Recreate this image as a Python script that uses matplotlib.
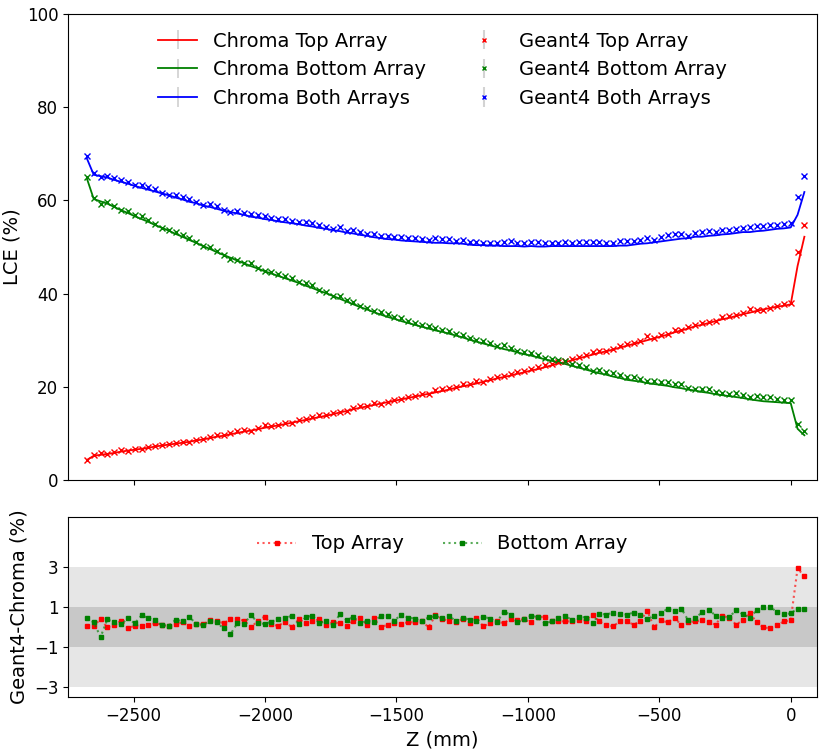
import numpy as np
import matplotlib
matplotlib.use("Agg")
import matplotlib.pyplot as plt

# ---- data ----
z_mm = [-2678, -2652, -2626, -2600, -2574, -2548, -2522, -2496, -2470, -2444,
        -2418, -2392, -2366, -2340, -2314, -2288, -2262, -2236, -2210, -2184,
        -2158, -2132, -2106, -2080, -2054, -2028, -2002, -1976, -1950, -1924,
        -1898, -1872, -1846, -1820, -1794, -1768, -1742, -1716, -1690, -1664,
        -1638, -1612, -1586, -1560, -1534, -1508, -1482, -1456, -1430, -1404,
        -1378, -1352, -1326, -1300, -1274, -1248, -1222, -1196, -1170, -1144,
        -1118, -1092, -1066, -1040, -1014, -988, -962, -936, -910, -884,
        -858, -832, -806, -780, -754, -728, -702, -676, -650, -624,
        -598, -572, -546, -520, -494, -468, -442, -416, -390, -364,
        -338, -312, -286, -260, -234, -208, -182, -156, -130, -104,
        -78, -52, -26, 0, 26, 52]

chroma_top = [4.3, 5.2, 5.4, 5.6, 5.8, 6.1, 6.3, 6.5, 6.7, 6.9,
              7.2, 7.4, 7.6, 7.8, 8.0, 8.2, 8.5, 8.7, 9.0, 9.3,
              9.5, 9.8, 10.1, 10.4, 10.6, 10.9, 11.2, 11.5, 11.7, 12.0,
              12.3, 12.6, 12.9, 13.2, 13.5, 13.8, 14.1, 14.5, 14.8, 15.2,
              15.5, 15.8, 16.1, 16.4, 16.7, 17.0, 17.3, 17.6, 17.9, 18.2,
              18.5, 18.8, 19.1, 19.4, 19.8, 20.1, 20.4, 20.7, 21.1, 21.4,
              21.8, 22.1, 22.4, 22.8, 23.1, 23.5, 23.8, 24.2, 24.6, 25.0,
              25.3, 25.7, 26.1, 26.5, 26.9, 27.3, 27.6, 28.0, 28.4, 28.8,
              29.2, 29.6, 30.0, 30.4, 30.8, 31.2, 31.7, 32.1, 32.5, 33.0,
              33.3, 33.7, 34.1, 34.5, 34.8, 35.2, 35.6, 35.9, 36.3, 36.6,
              36.9, 37.2, 37.4, 37.7, 45.9, 52.2]

chroma_bottom = [64.7, 60.3, 59.8, 59.3, 58.6, 57.9, 57.3, 56.6, 56.0, 55.4,
                 54.7, 54.1, 53.5, 52.8, 52.2, 51.5, 50.9, 50.2, 49.6, 48.9,
                 48.3, 47.7, 47.1, 46.5, 45.9, 45.4, 44.8, 44.3, 43.8, 43.3,
                 42.8, 42.3, 41.7, 41.2, 40.6, 40.1, 39.5, 38.9, 38.3, 37.7,
                 37.1, 36.6, 36.0, 35.5, 35.0, 34.6, 34.1, 33.7, 33.3, 32.9,
                 32.5, 32.1, 31.8, 31.4, 31.0, 30.6, 30.1, 29.7, 29.3, 28.9,
                 28.5, 28.1, 27.8, 27.4, 27.0, 26.7, 26.3, 25.9, 25.6, 25.2,
                 24.9, 24.5, 24.1, 23.7, 23.3, 22.9, 22.6, 22.2, 21.9, 21.5,
                 21.3, 21.1, 20.8, 20.6, 20.4, 20.2, 19.9, 19.7, 19.4, 19.2,
                 18.9, 18.7, 18.4, 18.2, 18.0, 17.8, 17.6, 17.3, 17.1, 16.9,
                 16.8, 16.7, 16.6, 16.5, 11.0, 9.6]

diff_top = [0.03, 0.07, 0.38, -0.02, 0.12, 0.30, -0.07, 0.07, 0.03, 0.08,
            0.18, 0.10, 0.03, 0.13, 0.23, 0.03, 0.15, 0.13, 0.33, 0.32,
            0.18, 0.38, 0.38, 0.32, -0.02, 0.30, 0.52, 0.13, 0.05, 0.27,
            -0.02, 0.38, 0.20, 0.28, 0.38, 0.10, 0.23, 0.18, 0.03, 0.32,
            0.43, 0.12, 0.43, -0.02, 0.12, 0.22, 0.17, 0.23, 0.23, 0.30,
            -0.02, 0.58, 0.42, 0.28, 0.23, 0.42, 0.22, 0.47, 0.03, 0.18,
            0.30, 0.18, 0.42, 0.35, 0.38, 0.23, 0.48, 0.52, 0.32, 0.28,
            0.28, 0.28, 0.37, 0.32, 0.62, 0.28, 0.08, 0.03, 0.28, 0.28,
            0.12, 0.28, 0.82, -0.02, 0.33, 0.23, 0.47, 0.08, 0.23, 0.28,
            0.33, 0.23, 0.12, 0.57, 0.45, 0.12, 0.33, 0.72, 0.23, -0.02,
            -0.07, 0.08, 0.28, 0.33, 2.93, 2.53]

diff_bottom = [0.43, 0.23, -0.50, 0.38, 0.23, 0.13, 0.43, 0.18, 0.58, 0.45,
               0.33, 0.08, 0.07, 0.37, 0.28, 0.52, 0.13, 0.08, 0.30, 0.23,
               -0.07, -0.37, 0.18, 0.13, 0.62, 0.20, 0.15, 0.27, 0.38, 0.43,
               0.57, 0.13, 0.48, 0.57, 0.18, 0.30, 0.08, 0.63, 0.35, 0.50,
               0.18, 0.32, 0.23, 0.57, 0.53, 0.32, 0.62, 0.47, 0.42, 0.28,
               0.48, 0.53, 0.45, 0.57, 0.28, 0.47, 0.37, 0.28, 0.52, 0.42,
               0.23, 0.77, 0.62, 0.23, 0.38, 0.57, 0.48, 0.18, 0.28, 0.47,
               0.57, 0.33, 0.52, 0.47, 0.18, 0.67, 0.62, 0.72, 0.67, 0.62,
               0.72, 0.62, 0.38, 0.57, 0.68, 0.92, 0.78, 0.92, 0.33, 0.43,
               0.73, 0.87, 0.57, 0.45, 0.50, 0.83, 0.63, 0.45, 0.83, 0.98,
               1.02, 0.73, 0.63, 0.68, 0.92, 0.88]

z = np.array(z_mm, dtype=float)
c_top = np.array(chroma_top)
c_bot = np.array(chroma_bottom)
c_both = c_top + c_bot
g_top = c_top + np.array(diff_top)
g_bot = c_bot + np.array(diff_bottom)
g_both = g_top + g_bot

# ---- figure ----
fig = plt.figure(figsize=(8.23, 7.5), dpi=100)
ax1 = fig.add_axes([0.0826, 0.36, 0.9101, 0.6213])
ax2 = fig.add_axes([0.0826, 0.0707, 0.9101, 0.24], sharex=ax1)

ecol = "lightgray"
ax1.errorbar(z, c_top, yerr=0.0, fmt="-", color="red", ecolor=ecol, lw=1.3, label="Chroma Top Array")
ax1.errorbar(z, c_bot, yerr=0.0, fmt="-", color="green", ecolor=ecol, lw=1.3, label="Chroma Bottom Array")
ax1.errorbar(z, c_both, yerr=0.0, fmt="-", color="blue", ecolor=ecol, lw=1.3, label="Chroma Both Arrays")
ax1.errorbar(z, g_top, yerr=0.0, fmt="x", color="red", ecolor=ecol, ms=5, mew=1.0, label="Geant4 Top Array")
ax1.errorbar(z, g_bot, yerr=0.0, fmt="x", color="green", ecolor=ecol, ms=5, mew=1.0, label="Geant4 Bottom Array")
ax1.errorbar(z, g_both, yerr=0.0, fmt="x", color="blue", ecolor=ecol, ms=5, mew=1.0, label="Geant4 Both Arrays")

ax1.set_ylim(0, 100)
ax1.set_xlim(-2750, 100)
ax1.set_yticks([0, 20, 40, 60, 80, 100])
ax1.set_ylabel("LCE (%)", fontsize=14)
ax1.tick_params(labelsize=12)
ax1.tick_params(axis="x", labelbottom=False)
ax1.legend(ncol=2, loc="upper center", frameon=False, fontsize=14, markerscale=0.6)

# bottom panel
ax2.axhspan(-3, 3, color="#e6e6e6", lw=0, zorder=0)
ax2.axhspan(-1, 1, color="#c8c8c8", lw=0, zorder=0)
ax2.plot(z, diff_top, ls=":", lw=1.5, color=(1, 0, 0, 0.65), marker="s", ms=3.5,
         mfc="red", mec="red", label="Top Array")
ax2.plot(z, diff_bottom, ls=":", lw=1.5, color=(0, 0.5, 0, 0.65), marker="s", ms=3.5,
         mfc="green", mec="green", label="Bottom Array")
ax2.set_ylim(-3.5, 5.5)
ax2.set_yticks([-3, -1, 1, 3])
ax2.set_xticks([-2500, -2000, -1500, -1000, -500, 0])
ax2.set_xlim(-2750, 100)
ax2.set_ylabel("Geant4-Chroma (%)", fontsize=14)
ax2.set_xlabel("Z (mm)", fontsize=14)
ax2.tick_params(labelsize=12)
ax2.legend(ncol=2, loc="upper center", frameon=False, fontsize=14)

fig.savefig("out.png", dpi=100)
